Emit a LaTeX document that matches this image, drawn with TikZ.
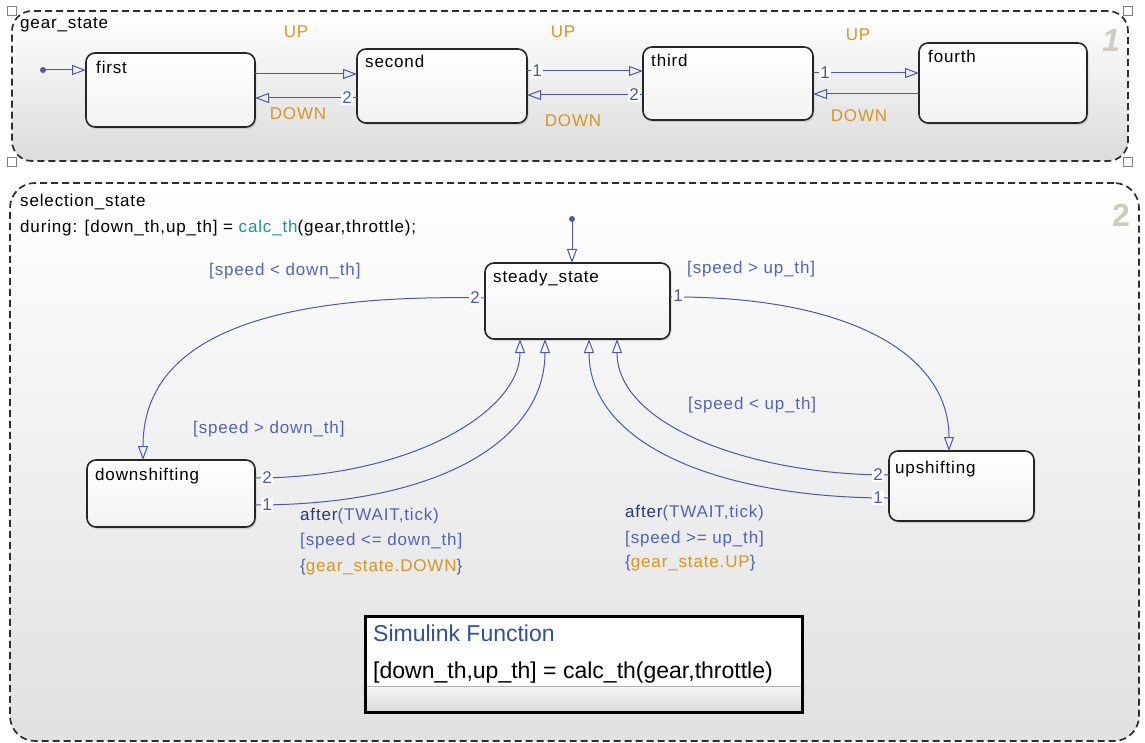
\documentclass[tikz,border=0pt]{standalone}
\usepackage{fontspec}
\setmainfont{Liberation Sans}[LetterSpace=5]
\newfontfamily\fnfont{Liberation Sans}
\usetikzlibrary{arrows.meta,calc,shadows}
\definecolor{tline}{RGB}{78,88,165}
\definecolor{tlab}{RGB}{85,100,178}
\definecolor{tdark}{RGB}{45,55,115}
\definecolor{orng}{RGB}{214,150,40}
\definecolor{calcteal}{RGB}{30,150,150}
\definecolor{regnum}{RGB}{208,203,193}
\definecolor{fnblue}{RGB}{50,80,150}
\newcommand\stfont{\fontsize{17}{20}\selectfont}
\newcommand\bigfn{\fnfont\fontsize{23}{26}\selectfont}
\tikzset{
  region/.style={draw=black!82, line width=1.7pt, dash pattern=on 7pt off 4pt, rounded corners=20pt, inner sep=0pt, outer sep=0pt, anchor=north west},
  handle/.style={draw=black!50, fill=white, line width=0.8pt, minimum size=9pt, inner sep=0pt},
  state/.style={draw=black!85, line width=1.6pt, rounded corners=9pt, top color=white, bottom color=black!5, inner sep=0pt, outer sep=0pt, anchor=north west, drop shadow={opacity=0.25, shadow xshift=1.5pt, shadow yshift=-2pt}},
  stxt/.style={anchor=base west, inner sep=0pt, font=\stfont, text=black},
  ltxt/.style={anchor=base west, inner sep=0pt, font=\stfont, text=tlab},
  evt/.style={inner sep=0pt, font=\stfont, text=orng},
  num/.style={inner sep=1pt, font=\stfont, text=tline, fill=white},
  regn/.style={inner sep=0pt, font=\fontsize{32}{34}\selectfont\bfseries, text=regnum},
  tr/.style={draw=tline, line width=1pt, -{Triangle[open, length=14pt, width=10pt, line width=1pt]}},
  dotn/.style={circle, fill=tline, inner sep=0pt, minimum size=6pt},
  fnbg/.style={fill=white, anchor=north west, inner sep=0pt, outer sep=0pt, minimum width=437pt, minimum height=96pt, drop shadow={opacity=0.35, shadow xshift=2pt, shadow yshift=-2pt}},
  fnborder/.style={draw=black, line width=3pt, anchor=north west, inner sep=0pt, outer sep=0pt, minimum width=437pt, minimum height=96pt}
}
\begin{document}
\begin{tikzpicture}[x=1pt,y=-1pt]
\useasboundingbox (0,0) rectangle (1145,743);
\fill[white] (0,0) rectangle (1145,743);
% regions
\node[region, top color=white, bottom color=black!14, minimum width=1116pt, minimum height=150pt] (gear) at (12,11) {};
\node[region, rounded corners=25pt, top color=white, bottom color=black!12, minimum width=1129pt, minimum height=558pt] (sel) at (10,183) {};
\node[handle] (h1) at (12,11) {};
\node[handle] (h2) at (12,162) {};
\node[handle] (h3) at (1128,11) {};
\node[handle] (h4) at (1128,162) {};
\node[stxt] (gearL) at (20,29) {gear\_state};
\node[regn, font=\fontsize{32}{34}\selectfont\bfseries\itshape] (reg1) at (1111,40) {1};
\node[stxt] (selL) at (20,207) {selection\_state};
\node[stxt] (durL) at (20,233) {during: [down\_th,up\_th] = \textcolor{calcteal}{calc\_th}(gear,throttle);};
\node[regn] (reg2) at (1121,215) {2};
% gear states
\node[state, minimum width=169pt, minimum height=74pt] (first) at (86,53) {};
\node[state, minimum width=170pt, minimum height=74pt] (second) at (357,49) {};
\node[state, minimum width=170pt, minimum height=73pt] (third) at (643,47) {};
\node[state, minimum width=168pt, minimum height=80pt] (fourth) at (919,43) {};
\node[stxt] (firstL) at (96,74) {first};
\node[stxt] (secondL) at (365,68) {second};
\node[stxt] (thirdL) at (651,67) {third};
\node[stxt] (fourthL) at (928,63) {fourth};
% gear transitions
\node[dotn] (d1) at (43,70) {};
\draw[tr] (d1) -- (first.west |- d1);
\draw[tr] ($(first.north east)+(0,21)$) -- ($(second.north west)+(0,25)$);
\draw[tr] ($(second.north west)+(0,49)$) -- ($(first.north east)+(0,45)$);
\draw[tr] ($(second.north east)+(0,22)$) -- ($(third.north west)+(0,24)$);
\draw[tr] ($(third.north west)+(0,48)$) -- ($(second.north east)+(0,46)$);
\draw[tr] ($(third.north east)+(0,26)$) -- ($(fourth.north west)+(0,30)$);
\draw[tr] ($(fourth.north west)+(0,51)$) -- ($(third.north east)+(0,47)$);
\node[num] (n1) at (347,98) {2};
\node[num] (n2) at (537,71) {1};
\node[num] (n3) at (634,95) {2};
\node[num] (n4) at (825,73) {1};
\node[evt] (up1) at (296,32) {UP};
\node[evt] (dn1) at (298,114) {DOWN};
\node[evt] (up2) at (563,32) {UP};
\node[evt] (dn2) at (573,121) {DOWN};
\node[evt] (up3) at (858,35) {UP};
\node[evt] (dn3) at (859,116) {DOWN};
% selection states
\node[state, minimum width=185pt, minimum height=76pt] (steady) at (485,263) {};
\node[state, minimum width=168pt, minimum height=67pt] (down) at (87,460) {};
\node[state, minimum width=145pt, minimum height=70pt] (up) at (889,451) {};
\node[stxt] (steadyL) at (493,283) {steady\_state};
\node[stxt] (downL) at (95,480) {downshifting};
\node[stxt] (upL) at (895,473) {upshifting};
% selection transitions
\node[dotn] (d2) at (572,219) {};
\draw[tr] (d2) -- (d2 |- steady.north);
\draw[tr] ($(steady.north west)+(0,35)$) .. controls (250,293) and (143,345) .. ($(down.north west)+(56,0)$);
\draw[tr] ($(steady.north east)+(0,34)$) .. controls (845,296) and (949,352) .. ($(up.north west)+(60,0)$);
\draw[tr] ($(down.north east)+(0,18)$) .. controls (410,478) and (520,412) .. ($(steady.south west)+(35,0)$);
\draw[tr] ($(down.north east)+(0,45)$) .. controls (440,505) and (545,440) .. ($(steady.south west)+(60,0)$);
\draw[tr] ($(up.north west)+(0,24)$) .. controls (750,475) and (617,425) .. ($(steady.south west)+(132,0)$);
\draw[tr] ($(up.north west)+(0,47)$) .. controls (720,498) and (589,445) .. ($(steady.south west)+(104,0)$);
\node[num] (n5) at (475,298) {2};
\node[num] (n6) at (678,296) {1};
\node[num] (n7) at (267,478) {2};
\node[num] (n8) at (267,505) {1};
\node[num] (n9) at (878,475) {2};
\node[num] (n10) at (878,498) {1};
\node[ltxt] (g1) at (209,276) {[speed < down\_th]};
\node[ltxt] (g2) at (687,273) {[speed > up\_th]};
\node[ltxt] (g3) at (193,433) {[speed > down\_th]};
\node[ltxt] (g4) at (688,409) {[speed < up\_th]};
\node[ltxt] (a1) at (300,520) {\textcolor{tdark}{after}(TWAIT,tick)};
\node[ltxt] (a2) at (300,545) {[speed <= down\_th]};
\node[ltxt] (a3) at (300,571) {\{\textcolor{orng}{gear\_state.DOWN}\}};
\node[ltxt] (b1) at (625,517) {\textcolor{tdark}{after}(TWAIT,tick)};
\node[ltxt] (b2) at (625,543) {[speed >= up\_th]};
\node[ltxt] (b3) at (625,567) {\{\textcolor{orng}{gear\_state.UP}\}};
% simulink function
\node[fnbg] (fnbg) at (365,616) {};
\shade[top color=white!97!black, bottom color=white!86!black] ($(fnbg.north west)+(1,70)$) rectangle ($(fnbg.south east)+(-1,-1)$);
\draw[black!30, line width=0.8pt] ($(fnbg.north west)+(0,70)$) -- ($(fnbg.north east)+(0,70)$);
\node[fnborder] (fn) at (365,616) {};
\node[anchor=base west, inner sep=0pt, font=\bigfn, text=fnblue] (fnT) at (373,641) {Simulink Function};
\node[anchor=base west, inner sep=0pt, font=\bigfn, text=black] (fnS) at (373,678) {[down\_th,up\_th] = calc\_th(gear,throttle)};
\end{tikzpicture}
\end{document}
